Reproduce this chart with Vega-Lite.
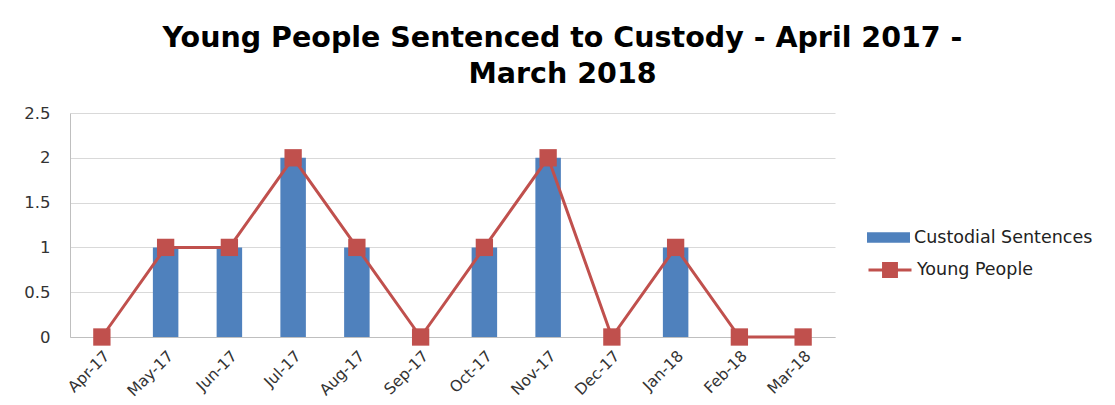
{
  "$schema": "https://vega.github.io/schema/vega-lite/v6.json",
  "width": 765,
  "height": 224,
  "autosize": "none",
  "padding": {"left": 70, "top": 113, "right": 280, "bottom": 68},
  "background": "white",
  "title": {
    "text": ["Young People Sentenced to Custody - April 2017 -", "March 2018"],
    "font": "DejaVu Sans",
    "fontSize": 28.5,
    "fontWeight": "bold",
    "color": "#000000",
    "anchor": "middle",
    "frame": "group",
    "dx": 110,
    "offset": 17,
    "lineHeight": 36
  },
  "config": {
    "view": {"stroke": null},
    "axis": {"labelFont": "DejaVu Sans", "labelColor": "#333333"},
    "legend": {"labelFont": "DejaVu Sans"}
  },
  "data": {
    "values": [
      {"month": "Apr-17", "custodial": 0, "young": 0},
      {"month": "May-17", "custodial": 1, "young": 1},
      {"month": "Jun-17", "custodial": 1, "young": 1},
      {"month": "Jul-17", "custodial": 2, "young": 2},
      {"month": "Aug-17", "custodial": 1, "young": 1},
      {"month": "Sep-17", "custodial": 0, "young": 0},
      {"month": "Oct-17", "custodial": 1, "young": 1},
      {"month": "Nov-17", "custodial": 2, "young": 2},
      {"month": "Dec-17", "custodial": 0, "young": 0},
      {"month": "Jan-18", "custodial": 1, "young": 1},
      {"month": "Feb-18", "custodial": 0, "young": 0},
      {"month": "Mar-18", "custodial": 0, "young": 0}
    ]
  },
  "encoding": {
    "x": {
      "field": "month",
      "type": "nominal",
      "sort": null,
      "scale": {"paddingInner": 0.6, "paddingOuter": 0.3},
      "axis": {
        "title": null,
        "labelAngle": -45,
        "labelFontSize": 15.5,
        "ticks": false,
        "domainColor": "#bfbfbf",
        "labelPadding": 11
      }
    }
  },
  "layer": [
    {
      "mark": {"type": "bar", "color": "#4F81BD"},
      "encoding": {
        "y": {
          "field": "custodial",
          "type": "quantitative",
          "scale": {"domain": [0, 2.5], "padding": 0, "nice": false},
          "axis": {
            "title": null,
            "values": [0, 0.5, 1, 1.5, 2, 2.5],
            "format": "~g",
            "labelFontSize": 16.5,
            "ticks": false,
            "labelPadding": 20,
            "gridColor": "#d9d9d9",
            "domainColor": "#bfbfbf"
          }
        },
        "fill": {
          "datum": "Custodial Sentences",
          "type": "nominal",
          "scale": {"range": ["#4F81BD"]},
          "legend": {
            "title": null,
            "orient": "none",
            "legendX": 797,
            "legendY": 103,
            "labelFontSize": 17.5,
            "labelLimit": 400,
            "labelColor": "#222222",
            "symbolType": "M-1,-0.24H1V0.24H-1Z",
            "symbolSize": 1849,
            "symbolStrokeWidth": 0,
            "labelOffset": 4
          }
        }
      }
    },
    {
      "mark": {"type": "line", "color": "#C0504D", "strokeWidth": 3},
      "encoding": {
        "y": {"field": "young", "type": "quantitative"},
        "stroke": {
          "datum": "Young People",
          "type": "nominal",
          "scale": {"range": ["#C0504D"]},
          "legend": {
            "title": null,
            "orient": "none",
            "legendX": 797,
            "legendY": 134,
            "labelFontSize": 17.5,
            "labelLimit": 400,
            "labelColor": "#222222",
            "symbolType": "M-1,0H1M-0.3,-0.3H0.3V0.3H-0.3Z",
            "symbolSize": 1849,
            "symbolFillColor": "#C0504D",
            "symbolStrokeWidth": 3,
            "labelOffset": 4
          }
        }
      }
    },
    {
      "mark": {"type": "square", "color": "#C0504D", "opacity": 1, "size": 300},
      "encoding": {
        "y": {"field": "young", "type": "quantitative"}
      }
    }
  ]
}
